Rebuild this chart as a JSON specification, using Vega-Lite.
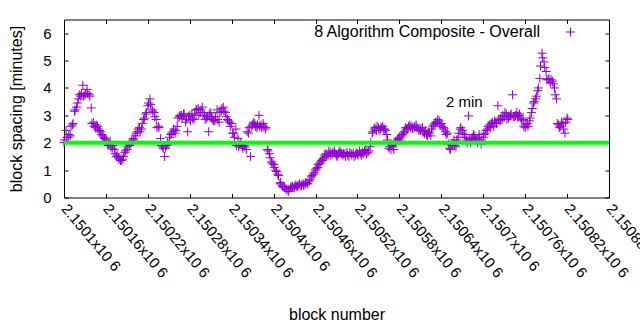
{
  "$schema": "https://vega.github.io/schema/vega-lite/v6.json",
  "width": 545,
  "height": 178,
  "autosize": {"type": "none"},
  "padding": {"left": 64, "top": 19.5, "right": 31, "bottom": 132.5},
  "background": "#ffffff",
  "config": {
    "font": "Liberation Sans",
    "view": {"stroke": "#000000", "strokeWidth": 1},
    "axis": {"grid": false, "domain": false, "tickColor": "#000000", "tickWidth": 1, "labelColor": "#000000", "titleColor": "#000000", "titleFontWeight": "normal"}
  },
  "layer": [
    {
      "data": {"values": [
        {"b":2150100,"v":2.0},{"b":2150103,"v":2.45},{"b":2150106,"v":2.2},{"b":2150109,"v":2.25},{"b":2150112,"v":2.65},{"b":2150115,"v":3.15},{"b":2150118,"v":3.3},{"b":2150121,"v":3.6},{"b":2150124,"v":3.7},{"b":2150127,"v":4.1},{"b":2150130,"v":3.75},{"b":2150133,"v":3.95},{"b":2150136,"v":3.75},{"b":2150139,"v":3.27},{"b":2150142,"v":2.75},{"b":2150145,"v":2.55},{"b":2150148,"v":2.6},{"b":2150151,"v":2.45},{"b":2150154,"v":2.3},{"b":2150157,"v":2.2},{"b":2150160,"v":2.1},{"b":2150163,"v":1.9},{"b":2150166,"v":2.05},{"b":2150169,"v":1.8},{"b":2150172,"v":1.75},{"b":2150175,"v":1.5},{"b":2150178,"v":1.45},{"b":2150181,"v":1.35},{"b":2150184,"v":1.4},{"b":2150187,"v":1.65},{"b":2150190,"v":1.75},{"b":2150193,"v":1.95},{"b":2150196,"v":2.0},{"b":2150199,"v":2.15},{"b":2150202,"v":2.25},{"b":2150205,"v":2.4},{"b":2150208,"v":2.55},{"b":2150211,"v":2.5},{"b":2150214,"v":2.85},{"b":2150217,"v":3.05},{"b":2150220,"v":3.35},{"b":2150223,"v":3.6},{"b":2150226,"v":3.2},{"b":2150229,"v":3.1},{"b":2150232,"v":2.85},{"b":2150235,"v":2.6},{"b":2150238,"v":2.15},{"b":2150241,"v":1.85},{"b":2150244,"v":1.5},{"b":2150247,"v":1.9},{"b":2150250,"v":1.95},{"b":2150253,"v":2.3},{"b":2150256,"v":2.4},{"b":2150259,"v":2.35},{"b":2150262,"v":2.6},{"b":2150265,"v":2.95},{"b":2150268,"v":3.0},{"b":2150271,"v":3.05},{"b":2150274,"v":2.75},{"b":2150277,"v":2.4},{"b":2150280,"v":3.0},{"b":2150283,"v":3.05},{"b":2150286,"v":2.85},{"b":2150289,"v":3.2},{"b":2150292,"v":3.25},{"b":2150295,"v":3.1},{"b":2150298,"v":3.3},{"b":2150301,"v":3.0},{"b":2150304,"v":2.9},{"b":2150307,"v":2.4},{"b":2150310,"v":3.1},{"b":2150313,"v":2.85},{"b":2150316,"v":2.8},{"b":2150319,"v":3.2},{"b":2150322,"v":2.75},{"b":2150325,"v":3.15},{"b":2150328,"v":3.3},{"b":2150331,"v":3.1},{"b":2150334,"v":2.85},{"b":2150337,"v":2.75},{"b":2150340,"v":2.7},{"b":2150343,"v":2.35},{"b":2150346,"v":2.5},{"b":2150349,"v":2.15},{"b":2150352,"v":1.95},{"b":2150355,"v":1.85},{"b":2150358,"v":1.9},{"b":2150361,"v":1.75},{"b":2150364,"v":2.35},{"b":2150367,"v":1.5},{"b":2150370,"v":2.65},{"b":2150373,"v":2.7},{"b":2150376,"v":2.55},{"b":2150379,"v":3.0},{"b":2150382,"v":2.65},{"b":2150385,"v":2.7},{"b":2150388,"v":2.5},{"b":2150391,"v":1.75},{"b":2150394,"v":1.6},{"b":2150397,"v":1.3},{"b":2150400,"v":1.2},{"b":2150403,"v":1.0},{"b":2150406,"v":0.85},{"b":2150409,"v":0.5},{"b":2150412,"v":0.45},{"b":2150415,"v":0.38},{"b":2150418,"v":0.3},{"b":2150421,"v":0.22},{"b":2150424,"v":0.35},{"b":2150427,"v":0.4},{"b":2150430,"v":0.38},{"b":2150433,"v":0.42},{"b":2150436,"v":0.45},{"b":2150439,"v":0.42},{"b":2150442,"v":0.5},{"b":2150445,"v":0.48},{"b":2150448,"v":0.52},{"b":2150451,"v":0.6},{"b":2150454,"v":0.75},{"b":2150457,"v":0.85},{"b":2150460,"v":1.0},{"b":2150463,"v":1.1},{"b":2150466,"v":1.25},{"b":2150469,"v":1.35},{"b":2150472,"v":1.45},{"b":2150475,"v":1.6},{"b":2150478,"v":1.55},{"b":2150481,"v":1.65},{"b":2150484,"v":1.6},{"b":2150487,"v":1.7},{"b":2150490,"v":1.55},{"b":2150493,"v":1.6},{"b":2150496,"v":1.65},{"b":2150499,"v":1.55},{"b":2150502,"v":1.6},{"b":2150505,"v":1.65},{"b":2150508,"v":1.5},{"b":2150511,"v":1.6},{"b":2150514,"v":1.62},{"b":2150517,"v":1.55},{"b":2150520,"v":1.6},{"b":2150523,"v":1.7},{"b":2150526,"v":1.55},{"b":2150529,"v":1.6},{"b":2150532,"v":1.75},{"b":2150535,"v":1.65},{"b":2150538,"v":1.85},{"b":2150541,"v":2.35},{"b":2150544,"v":2.5},{"b":2150547,"v":2.45},{"b":2150550,"v":2.55},{"b":2150553,"v":2.5},{"b":2150556,"v":2.6},{"b":2150559,"v":2.5},{"b":2150562,"v":2.3},{"b":2150565,"v":1.8},{"b":2150568,"v":1.75},{"b":2150571,"v":1.85},{"b":2150574,"v":2.0},{"b":2150577,"v":2.1},{"b":2150580,"v":2.2},{"b":2150583,"v":2.25},{"b":2150586,"v":2.35},{"b":2150589,"v":2.55},{"b":2150592,"v":2.5},{"b":2150595,"v":2.65},{"b":2150598,"v":2.6},{"b":2150601,"v":2.55},{"b":2150604,"v":2.65},{"b":2150607,"v":2.5},{"b":2150610,"v":2.45},{"b":2150613,"v":2.55},{"b":2150616,"v":2.35},{"b":2150619,"v":2.3},{"b":2150622,"v":2.4},{"b":2150625,"v":2.25},{"b":2150628,"v":2.6},{"b":2150631,"v":2.7},{"b":2150634,"v":2.75},{"b":2150637,"v":2.8},{"b":2150640,"v":2.7},{"b":2150643,"v":2.55},{"b":2150646,"v":2.4},{"b":2150649,"v":2.35},{"b":2150652,"v":1.8},{"b":2150655,"v":1.9},{"b":2150658,"v":2.1},{"b":2150661,"v":1.85},{"b":2150664,"v":2.2},{"b":2150667,"v":2.5},{"b":2150670,"v":2.45},{"b":2150673,"v":2.3},{"b":2150676,"v":2.1},{"b":2150679,"v":2.98},{"b":2150682,"v":2.0},{"b":2150685,"v":2.2},{"b":2150688,"v":2.25},{"b":2150691,"v":2.15},{"b":2150694,"v":2.3},{"b":2150697,"v":1.95},{"b":2150700,"v":2.2},{"b":2150703,"v":2.35},{"b":2150706,"v":2.5},{"b":2150709,"v":2.65},{"b":2150712,"v":2.7},{"b":2150715,"v":2.6},{"b":2150718,"v":2.75},{"b":2150721,"v":3.35},{"b":2150724,"v":2.8},{"b":2150727,"v":2.85},{"b":2150730,"v":2.95},{"b":2150733,"v":3.05},{"b":2150736,"v":2.9},{"b":2150739,"v":3.0},{"b":2150742,"v":3.75},{"b":2150745,"v":2.95},{"b":2150748,"v":3.1},{"b":2150751,"v":3.0},{"b":2150754,"v":2.9},{"b":2150757,"v":2.85},{"b":2150760,"v":2.55},{"b":2150763,"v":2.7},{"b":2150766,"v":2.8},{"b":2150769,"v":3.1},{"b":2150772,"v":3.45},{"b":2150775,"v":3.6},{"b":2150778,"v":3.9},{"b":2150781,"v":4.35},{"b":2150784,"v":5.27},{"b":2150787,"v":4.95},{"b":2150790,"v":4.6},{"b":2150793,"v":4.3},{"b":2150796,"v":4.2},{"b":2150799,"v":4.25},{"b":2150802,"v":4.0},{"b":2150805,"v":3.6},{"b":2150808,"v":2.65},{"b":2150811,"v":2.6},{"b":2150814,"v":2.7},{"b":2150817,"v":2.35},{"b":2150820,"v":2.9},
        {"b":2150101,"v":2.1},{"b":2150104,"v":2.2},{"b":2150107,"v":2.3},{"b":2150110,"v":2.6},{"b":2150113,"v":2.7},{"b":2150116,"v":3.2},{"b":2150119,"v":3.45},{"b":2150122,"v":3.75},{"b":2150125,"v":3.8},{"b":2150128,"v":3.7},{"b":2150131,"v":3.8},{"b":2150134,"v":3.8},{"b":2150137,"v":3.7},{"b":2150140,"v":2.7},{"b":2150143,"v":2.6},{"b":2150146,"v":2.65},{"b":2150149,"v":2.5},{"b":2150152,"v":2.4},{"b":2150155,"v":2.25},{"b":2150158,"v":2.15},{"b":2150161,"v":2.05},{"b":2150164,"v":1.95},{"b":2150167,"v":1.85},{"b":2150170,"v":1.9},{"b":2150173,"v":1.6},{"b":2150176,"v":1.55},{"b":2150179,"v":1.4},{"b":2150182,"v":1.35},{"b":2150185,"v":1.5},{"b":2150188,"v":1.7},{"b":2150191,"v":1.85},{"b":2150194,"v":1.9},{"b":2150197,"v":2.05},{"b":2150200,"v":2.1},{"b":2150203,"v":2.35},{"b":2150206,"v":2.5},{"b":2150209,"v":2.4},{"b":2150212,"v":2.7},{"b":2150215,"v":2.9},{"b":2150218,"v":3.1},{"b":2150221,"v":3.45},{"b":2150224,"v":3.4},{"b":2150227,"v":3.15},{"b":2150230,"v":2.95},{"b":2150233,"v":2.55},{"b":2150236,"v":2.55},{"b":2150239,"v":1.9},{"b":2150242,"v":1.8},{"b":2150245,"v":1.8},{"b":2150248,"v":2.0},{"b":2150251,"v":2.2},{"b":2150254,"v":2.35},{"b":2150257,"v":2.5},{"b":2150260,"v":2.45},{"b":2150263,"v":2.9},{"b":2150266,"v":3.0},{"b":2150269,"v":2.9},{"b":2150272,"v":3.05},{"b":2150275,"v":2.85},{"b":2150278,"v":2.95},{"b":2150281,"v":2.8},{"b":2150284,"v":2.9},{"b":2150287,"v":3.05},{"b":2150290,"v":3.2},{"b":2150293,"v":3.0},{"b":2150296,"v":3.2},{"b":2150299,"v":3.1},{"b":2150302,"v":2.85},{"b":2150305,"v":2.95},{"b":2150308,"v":3.05},{"b":2150311,"v":2.9},{"b":2150314,"v":2.8},{"b":2150317,"v":2.95},{"b":2150320,"v":2.85},{"b":2150323,"v":3.1},{"b":2150326,"v":3.25},{"b":2150329,"v":3.15},{"b":2150332,"v":2.95},{"b":2150335,"v":2.8},{"b":2150338,"v":2.6},{"b":2150341,"v":2.35},{"b":2150344,"v":2.2},{"b":2150347,"v":1.9},{"b":2150350,"v":1.85},{"b":2150353,"v":2.0},{"b":2150356,"v":1.8},{"b":2150359,"v":1.85},{"b":2150362,"v":2.4},{"b":2150365,"v":2.55},{"b":2150368,"v":2.6},{"b":2150371,"v":2.75},{"b":2150374,"v":2.6},{"b":2150377,"v":2.65},{"b":2150380,"v":2.6},{"b":2150383,"v":2.55},{"b":2150386,"v":2.6},{"b":2150389,"v":2.55},{"b":2150392,"v":1.7},{"b":2150395,"v":1.45},{"b":2150398,"v":1.25},{"b":2150401,"v":1.1},{"b":2150404,"v":0.95},{"b":2150407,"v":0.8},{"b":2150410,"v":0.55},{"b":2150413,"v":0.4},{"b":2150416,"v":0.35},{"b":2150419,"v":0.28},{"b":2150422,"v":0.3},{"b":2150425,"v":0.4},{"b":2150428,"v":0.35},{"b":2150431,"v":0.45},{"b":2150434,"v":0.4},{"b":2150437,"v":0.5},{"b":2150440,"v":0.45},{"b":2150443,"v":0.45},{"b":2150446,"v":0.55},{"b":2150449,"v":0.5},{"b":2150452,"v":0.65},{"b":2150455,"v":0.8},{"b":2150458,"v":0.9},{"b":2150461,"v":1.05},{"b":2150464,"v":1.2},{"b":2150467,"v":1.3},{"b":2150470,"v":1.4},{"b":2150473,"v":1.55},{"b":2150476,"v":1.5},{"b":2150479,"v":1.7},{"b":2150482,"v":1.55},{"b":2150485,"v":1.65},{"b":2150488,"v":1.6},{"b":2150491,"v":1.5},{"b":2150494,"v":1.7},{"b":2150497,"v":1.6},{"b":2150500,"v":1.6},{"b":2150503,"v":1.5},{"b":2150506,"v":1.55},{"b":2150509,"v":1.65},{"b":2150512,"v":1.55},{"b":2150515,"v":1.5},{"b":2150518,"v":1.65},{"b":2150521,"v":1.55},{"b":2150524,"v":1.6},{"b":2150527,"v":1.65},{"b":2150530,"v":1.7},{"b":2150533,"v":1.6},{"b":2150536,"v":1.7},{"b":2150539,"v":2.0},{"b":2150542,"v":2.4},{"b":2150545,"v":2.55},{"b":2150548,"v":2.6},{"b":2150551,"v":2.45},{"b":2150554,"v":2.55},{"b":2150557,"v":2.5},{"b":2150560,"v":2.45},{"b":2150563,"v":2.1},{"b":2150566,"v":1.85},{"b":2150569,"v":1.9},{"b":2150572,"v":1.75},{"b":2150575,"v":2.05},{"b":2150578,"v":2.15},{"b":2150581,"v":2.1},{"b":2150584,"v":2.3},{"b":2150587,"v":2.4},{"b":2150590,"v":2.5},{"b":2150593,"v":2.6},{"b":2150596,"v":2.55},{"b":2150599,"v":2.5},{"b":2150602,"v":2.6},{"b":2150605,"v":2.55},{"b":2150608,"v":2.45},{"b":2150611,"v":2.5},{"b":2150614,"v":2.4},{"b":2150617,"v":2.45},{"b":2150620,"v":2.25},{"b":2150623,"v":2.35},{"b":2150626,"v":2.5},{"b":2150629,"v":2.65},{"b":2150632,"v":2.75},{"b":2150635,"v":2.85},{"b":2150638,"v":2.65},{"b":2150641,"v":2.6},{"b":2150644,"v":2.5},{"b":2150647,"v":2.3},{"b":2150650,"v":1.95},{"b":2150653,"v":1.75},{"b":2150656,"v":1.95},{"b":2150659,"v":1.9},{"b":2150662,"v":2.1},{"b":2150665,"v":2.35},{"b":2150668,"v":2.55},{"b":2150671,"v":2.35},{"b":2150674,"v":2.2},{"b":2150677,"v":2.0},{"b":2150680,"v":2.15},{"b":2150683,"v":2.1},{"b":2150686,"v":2.3},{"b":2150689,"v":2.1},{"b":2150692,"v":2.0},{"b":2150695,"v":2.2},{"b":2150698,"v":2.1},{"b":2150701,"v":2.3},{"b":2150704,"v":2.45},{"b":2150707,"v":2.6},{"b":2150710,"v":2.55},{"b":2150713,"v":2.75},{"b":2150716,"v":2.8},{"b":2150719,"v":2.7},{"b":2150722,"v":2.85},{"b":2150725,"v":2.9},{"b":2150728,"v":3.0},{"b":2150731,"v":3.1},{"b":2150734,"v":2.85},{"b":2150737,"v":2.95},{"b":2150740,"v":3.05},{"b":2150743,"v":2.95},{"b":2150746,"v":3.0},{"b":2150749,"v":2.95},{"b":2150752,"v":3.05},{"b":2150755,"v":2.8},{"b":2150758,"v":2.6},{"b":2150761,"v":2.65},{"b":2150764,"v":2.6},{"b":2150767,"v":2.9},{"b":2150770,"v":3.25},{"b":2150773,"v":3.5},{"b":2150776,"v":3.7},{"b":2150779,"v":4.0},{"b":2150782,"v":4.8},{"b":2150785,"v":5.1},{"b":2150788,"v":4.75},{"b":2150791,"v":4.3},{"b":2150794,"v":4.35},{"b":2150797,"v":4.3},{"b":2150800,"v":4.15},{"b":2150803,"v":3.75},{"b":2150806,"v":2.7},{"b":2150809,"v":2.55},{"b":2150812,"v":2.75},{"b":2150815,"v":2.5},{"b":2150818,"v":2.75},{"b":2150821,"v":2.85}
      ]},
      "mark": {"type": "point", "shape": "M-1,0L1,0M0,-1L0,1", "filled": false, "size": 81, "strokeWidth": 1, "opacity": 1},
      "encoding": {
        "x": {"field": "b", "type": "quantitative",
          "scale": {"domain": [2150100, 2150880], "nice": false, "zero": false},
          "axis": {"orient": "bottom", "values": [2150100,2150160,2150220,2150280,2150340,2150400,2150460,2150520,2150580,2150640,2150700,2150760,2150820,2150880],
            "labelExpr": "format(datum.value/1000000, '.5~f') + 'x10 6'",
            "labelAngle": 50, "labelAlign": "left", "labelBaseline": "middle", "labelFontSize": 15, "labelPadding": 12, "labelOverlap": false, "labelFlush": false, "labelBound": false,
            "tickSize": -4, "title": "block number", "titleFontSize": 16, "titleX": 272.5, "titleY": 122, "titleBaseline": "alphabetic", "titleAnchor": "middle", "titleAlign": "center"}},
        "y": {"field": "v", "type": "quantitative",
          "scale": {"domain": [0, 6.5], "nice": false, "zero": false},
          "axis": {"orient": "left", "values": [0,1,2,3,4,5,6], "labelFontSize": 15, "labelPadding": 17, "tickSize": -4, "labelBaseline": "middle",
            "title": "block spacing [minutes]", "titleFontSize": 16, "titleX": -43, "titleY": 89, "titleBaseline": "alphabetic", "titleAngle": -90, "titleAnchor": "middle", "titleAlign": "center"}},
        "color": {"datum": "8 Algorithm Composite - Overall", "type": "nominal",
          "scale": {"range": ["#9400d3"]},
          "legend": {"orient": "none", "legendX": 498.5, "legendY": 4.5, "title": null, "padding": 0,
            "symbolType": "M-1,0L1,0M0,-1L0,1", "symbolSize": 81, "symbolStrokeWidth": 1, "symbolFillColor": "transparent",
            "labelFontSize": 16, "labelAlign": "right", "labelOffset": -38.5, "labelColor": "#000000", "labelLimit": 400}}
      }
    },
    {
      "data": {"values": [{"level": 2}]},
      "mark": {"type": "rule", "color": "#00ff00", "strokeWidth": 4},
      "encoding": {"y": {"field": "level", "type": "quantitative", "axis": null}}
    },
    {
      "data": {"values": [{"b": 2150673, "v": 3.5, "label": "2 min"}]},
      "mark": {"type": "text", "fontSize": 15, "color": "#000000", "align": "center", "baseline": "middle"},
      "encoding": {
        "x": {"field": "b", "type": "quantitative",
          "scale": {"domain": [2150100, 2150880], "nice": false, "zero": false},
          "axis": {"orient": "top", "values": [2150100,2150160,2150220,2150280,2150340,2150400,2150460,2150520,2150580,2150640,2150700,2150760,2150820,2150880], "labels": false, "tickSize": -4, "title": null}},
        "y": {"field": "v", "type": "quantitative",
          "scale": {"domain": [0, 6.5], "nice": false, "zero": false},
          "axis": {"orient": "right", "values": [0,1,2,3,4,5,6], "labels": false, "tickSize": -4, "title": null}},
        "text": {"field": "label"}
      }
    }
  ],
  "resolve": {"axis": {"x": "independent", "y": "independent"}}
}
